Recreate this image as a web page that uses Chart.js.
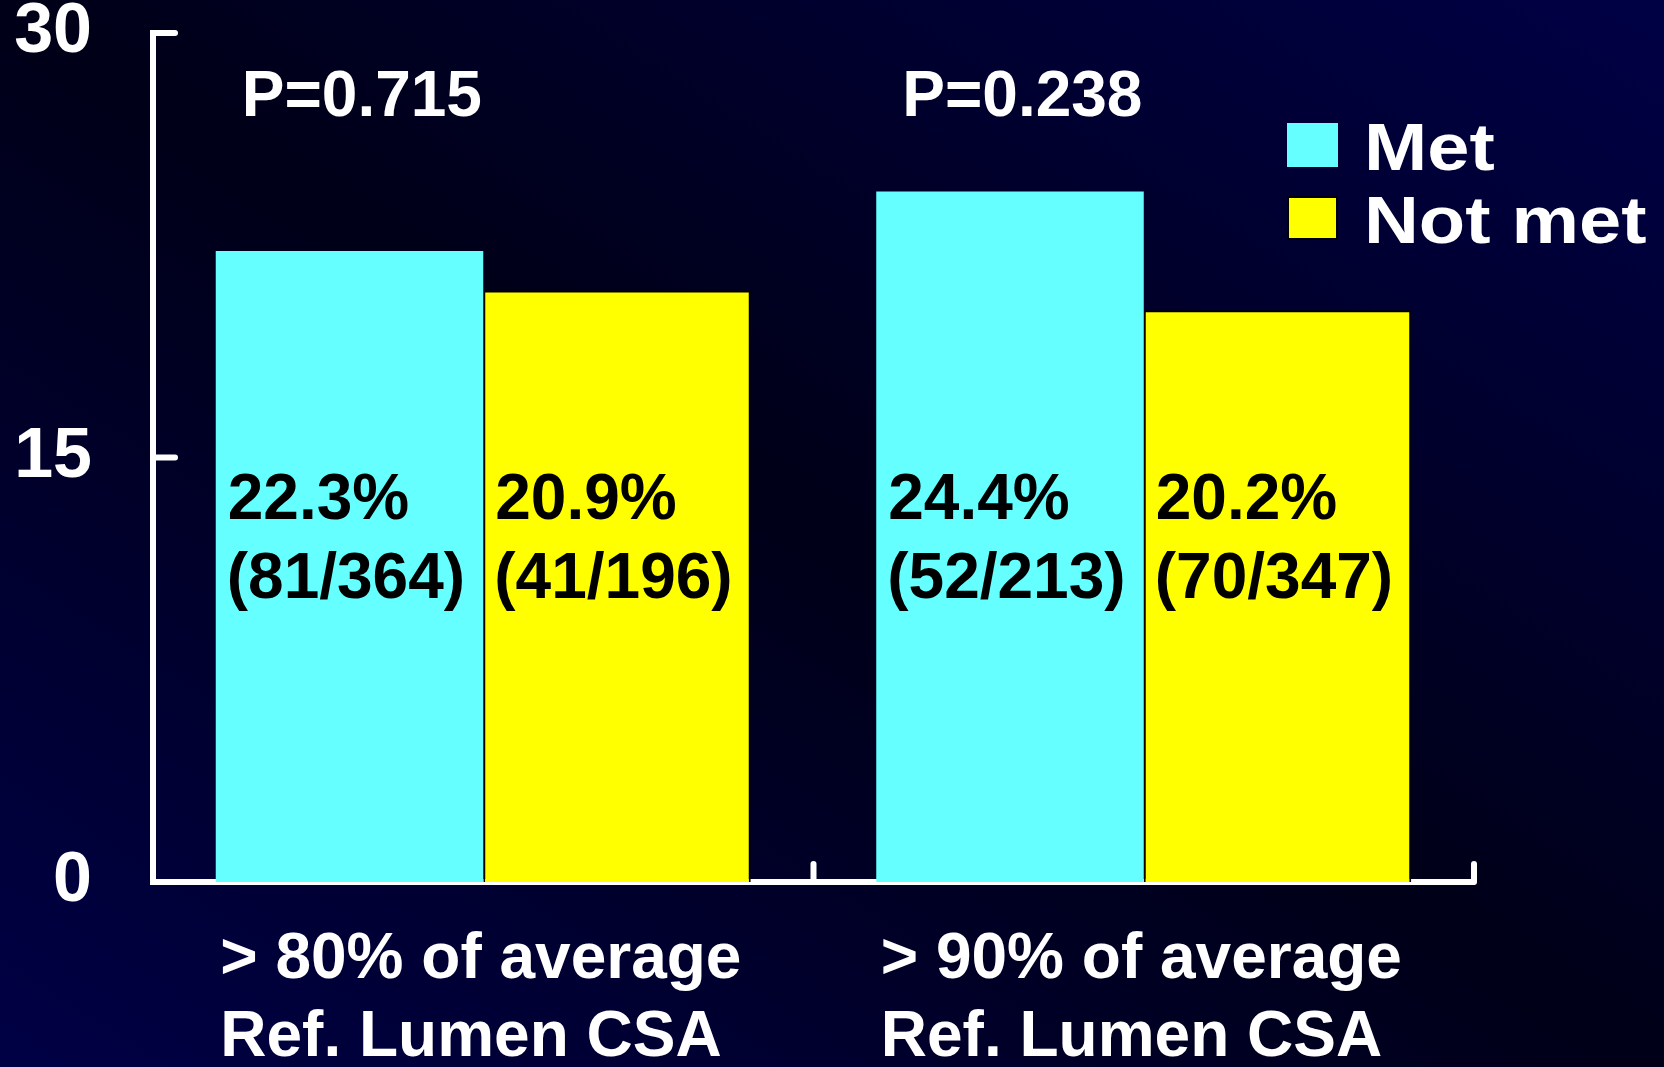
<!DOCTYPE html>
<html>
<head>
<meta charset="utf-8">
<script src="https://cdn.jsdelivr.net/npm/chart.js@4/dist/chart.umd.min.js"></script>
<style>
  html, body { margin: 0; padding: 0; background: #00001c; overflow: hidden; }
  #wrap { width: 1664px; height: 1067px; }
  canvas { display: block; }
</style>
</head>
<body>
<div id="wrap"><canvas id="c" width="1664" height="1067"></canvas></div>
<script>
// Chart data
const categories = [['> 80% of average', 'Ref. Lumen CSA'], ['> 90% of average', 'Ref. Lumen CSA']];
const seriesNames = ['Met', 'Not met'];
const metValues = [22.3, 24.4];
const notMetValues = [20.9, 20.2];
const metCounts = ['81/364', '52/213'];
const notMetCounts = ['41/196', '70/347'];
const pValues = ['P=0.715', 'P=0.238'];
const yTicks = [0, 15, 30];

const countsBySeries = [metCounts, notMetCounts];
const FONT = '"Liberation Sans", Arial, Helvetica, sans-serif';

// Diagonal navy background
const backgroundPlugin = {
  id: 'bg',
  beforeDraw(chart) {
    const { ctx, width, height } = chart;
    const g = ctx.createLinearGradient(width * 0.21, height * 1.21, width * 0.79, -height * 0.21);
    g.addColorStop(0, '#000046');
    g.addColorStop(0.5, '#000018');
    g.addColorStop(1, '#000046');
    ctx.save();
    ctx.fillStyle = g;
    ctx.fillRect(0, 0, width, height);
    ctx.restore();
  }
};

// Inward tick marks, value labels, p-values and legend
const annotatePlugin = {
  id: 'annotate',
  afterDraw(chart) {
    const { ctx, chartArea, scales } = chart;
    const x = scales.x, y = scales.y;
    ctx.save();
    ctx.strokeStyle = '#ffffff';
    ctx.lineWidth = 6;
    ctx.lineCap = 'round';
    // y ticks pointing into the plot
    yTicks.forEach(v => {
      if (v === 0) return;
      const py = y.getPixelForValue(v);
      ctx.beginPath();
      ctx.moveTo(chartArea.left, py);
      ctx.lineTo(chartArea.left + 22, py);
      ctx.stroke();
    });
    // category boundary ticks pointing up
    [0.5, 1.5].forEach(v => {
      const px = x.getPixelForValue(v);
      ctx.beginPath();
      ctx.moveTo(px, chartArea.bottom);
      ctx.lineTo(px, chartArea.bottom - 18);
      ctx.stroke();
    });
    // close the bottom-left corner
    ctx.fillStyle = '#ffffff';
    ctx.fillRect(chartArea.left - 3, chartArea.bottom - 3, 6, 6);

    // value labels inside bars
    ctx.fillStyle = '#000000';
    ctx.font = 'bold 64px ' + FONT;
    ctx.textAlign = 'left';
    ctx.textBaseline = 'middle';
    chart.data.datasets.forEach((ds, di) => {
      const meta = chart.getDatasetMeta(di);
      meta.data.forEach((bar, i) => {
        const left = bar.x - bar.width / 2;
        const ty = chartArea.top + 468;
        ctx.fillText(ds.data[i].toFixed(1) + '%', left + 12, ty);
        ctx.fillText('(' + countsBySeries[di][i] + ')', left + 11, ty + 79);
      });
    });

    // p-values above each group
    ctx.fillStyle = '#ffffff';
    const metMeta = chart.getDatasetMeta(0);
    metMeta.data.forEach((bar, i) => {
      const left = bar.x - bar.width / 2;
      ctx.fillText(pValues[i], left + 26, chartArea.top + 65);
    });

    // legend
    const legendX = 1287, legendY = [123, 196];
    ctx.textBaseline = 'alphabetic';
    chart.data.datasets.forEach((ds, di) => {
      const sy = legendY[di];
      ctx.fillStyle = ds.backgroundColor;
      ctx.fillRect(legendX, sy, 51, 44);
      if (ds.borderWidth) {
        ctx.strokeStyle = '#000000';
        ctx.lineWidth = 2;
        ctx.lineCap = 'butt';
        ctx.strokeRect(legendX + 1, sy + 1, 49, 42);
      }
      ctx.save();
      ctx.translate(1364, sy + 47);
      ctx.scale(1.15, 1);
      ctx.font = 'bold 66px ' + FONT;
      ctx.fillStyle = '#ffffff';
      ctx.fillText(ds.label, 0, 0);
      ctx.restore();
    });
    ctx.restore();
  }
};

new Chart(document.getElementById('c'), {
  type: 'bar',
  data: {
    labels: categories,
    datasets: [
      { label: seriesNames[0], data: metValues, backgroundColor: '#66ffff', borderWidth: 0 },
      { label: seriesNames[1], data: notMetValues, backgroundColor: '#ffff00', borderColor: '#000000', borderWidth: 2 }
    ]
  },
  options: {
    responsive: false,
    devicePixelRatio: 1,
    animation: false,
    layout: { padding: { left: 0, top: 33, right: 190, bottom: 0 } },
    datasets: { bar: { categoryPercentage: 0.81, barPercentage: 1.0 } },
    plugins: { legend: { display: false }, tooltip: { enabled: false } },
    scales: {
      x: {
        grid: { display: false, drawTicks: false },
        border: { display: true, color: '#ffffff', width: 6 },
        afterFit: s => { s.height = 185; s.paddingLeft = 0; s.paddingRight = 0; },
        ticks: {
          color: '#ffffff',
          font: { family: FONT, size: 64, weight: 'bold', lineHeight: 78 / 64 },
          padding: 39,
          align: 'start',
          maxRotation: 0,
          autoSkip: false,
          labelOffset: -263
        }
      },
      y: {
        min: 0,
        max: 30,
        afterFit: s => { s.width = 153; s.paddingTop = 0; s.paddingBottom = 0; },
        afterBuildTicks: s => { s.ticks = yTicks.map(v => ({ value: v })); },
        grid: { display: false, drawTicks: false },
        border: { display: true, color: '#ffffff', width: 6 },
        ticks: {
          color: '#ffffff',
          font: { family: FONT, size: 70, weight: 'bold', lineHeight: 1 },
          padding: 61
        }
      }
    }
  },
  plugins: [backgroundPlugin, annotatePlugin]
});
</script>
</body>
</html>
